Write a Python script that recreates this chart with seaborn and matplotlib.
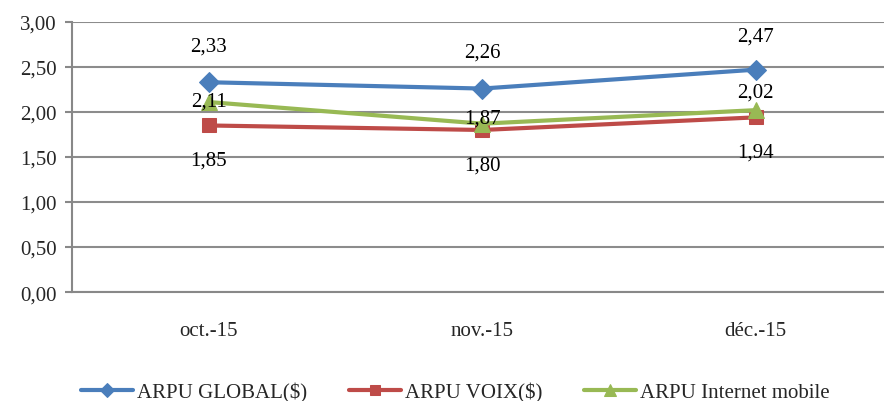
"""ARPU mensuel (oct.-déc. 2015) : global, voix et internet mobile."""
import pandas as pd
import matplotlib.pyplot as plt
import seaborn as sns

months = ['oct.-15', 'nov.-15', 'déc.-15']
arpu_global = [2.33, 2.26, 2.47]
arpu_voix = [1.85, 1.80, 1.94]
arpu_internet = [2.11, 1.87, 2.02]

# (nom, valeurs, couleur, marqueur, taille, décalage des étiquettes en points)
series = [
    ('ARPU GLOBAL($)', arpu_global, '#4A7EBB', 'D', 10, [26, 26, 24]),
    ('ARPU VOIX($)', arpu_voix, '#BE4B48', 's', 10, [-25, -25, -25]),
    ('ARPU Internet mobile', arpu_internet, '#98B954', '^', 11, [1, 4, 13]),
]

sns.set_style('white')
plt.rcParams['font.family'] = ['Liberation Serif', 'DejaVu Serif']
FS = 15

fig = plt.figure(figsize=(8.84, 4.02), dpi=100)
ax = fig.add_axes([0.0815, 0.271, 0.928, 0.672])
ax.set_axisbelow(True)

for name, vals, color, marker, ms, offs in series:
    df = pd.DataFrame({'mois': months, 'arpu': vals})
    sns.lineplot(data=df, x='mois', y='arpu', ax=ax, color=color, lw=3,
                 marker=marker, markersize=ms, markeredgecolor=color,
                 label=name, sort=False)
    for i, (v, o) in enumerate(zip(vals, offs)):
        ax.annotate(f'{v:.2f}'.replace('.', ','), (i, v), xytext=(0, o),
                    textcoords='offset points', ha='center', va='center',
                    fontsize=FS, color='black')

ax.set_xlim(-0.5, 2.5)
ax.set_ylim(0, 3)
ax.set_yticks([i * 0.5 for i in range(7)])
ax.set_yticklabels([f'{i * 0.5:.2f}'.replace('.', ',') for i in range(7)],
                   fontsize=FS)
ax.set_xticks(range(3))
ax.set_xticklabels(months, fontsize=FS)
ax.set_xticks([0.5, 1.5], minor=True)
ax.tick_params(axis='x', which='major', length=0, pad=21)
ax.tick_params(axis='x', which='minor', length=5, color='#888888', width=1.5)
ax.tick_params(axis='y', length=5, color='#888888', width=1.5, pad=6, left=True)
ax.yaxis.grid(True, color='#8c8c8c', lw=1.5)
ax.set_xlabel('')
ax.set_ylabel('')
for s in ['top', 'right']:
    ax.spines[s].set_visible(False)
for s in ['left', 'bottom']:
    ax.spines[s].set_color('#888888')
    ax.spines[s].set_linewidth(1.5)

ax.legend(loc='center', bbox_to_anchor=(0.467, -0.37), ncol=3,
          frameon=False, fontsize=FS, handlelength=2.5, columnspacing=2.0,
          handletextpad=0.2, markerscale=0.75)

plt.savefig('out.png', dpi=100)
